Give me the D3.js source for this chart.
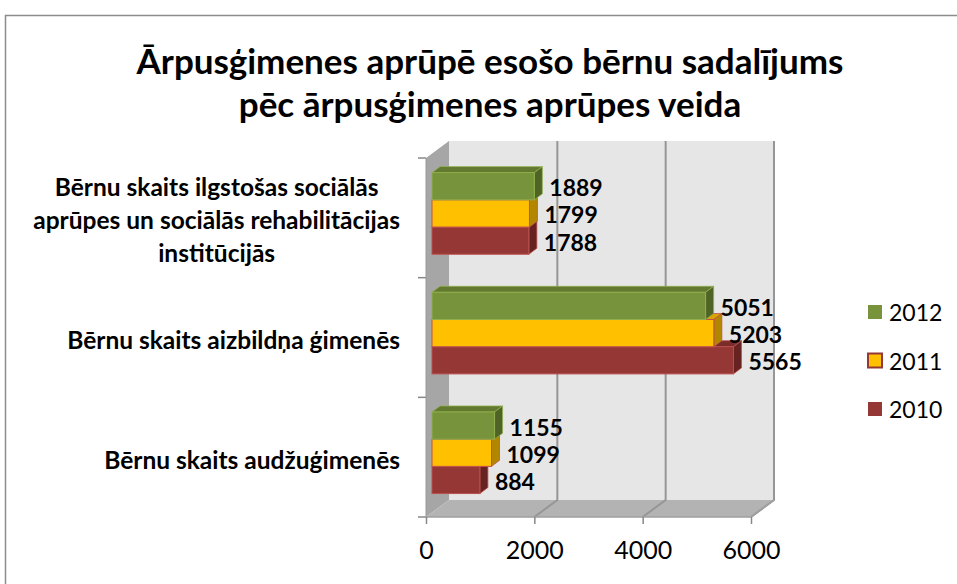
<!DOCTYPE html>
<html>
<head>
<meta charset="utf-8">
<script src="https://cdn.jsdelivr.net/npm/d3@7"></script>
<style>
  html, body { margin: 0; padding: 0; background: #fff; }
  svg { display: block; font-family: Lato, "Open Sans", sans-serif; }
</style>
</head>
<body>
<div id="chart"></div>
<script>
// Data (top to bottom as displayed)
const categories = [
    ["Bērnu skaits ilgstošas sociālās", "aprūpes un sociālās rehabilitācijas", "institūcijās"],
    ["Bērnu skaits aizbildņa ģimenēs"],
    ["Bērnu skaits audžuģimenēs"]
];
const years = ["2012", "2011", "2010"];
const values2012 = [1889, 5051, 1155];
const values2011 = [1799, 5203, 1099];
const values2010 = [1788, 5565, 884];
const xTicks = [0, 2000, 4000, 6000];
const titleLines = ["Ārpusģimenes aprūpē esošo bērnu sadalījums", "pēc ārpusģimenes aprūpes veida"];

const seriesValues = { "2012": values2012, "2011": values2011, "2010": values2010 };
const colors = {
    "2012": { front: "#77933c", top: "#62792f", side: "#4f6326", stroke: "#8fae4c" },
    "2011": { front: "#ffc000", top: "#d9a300", side: "#b38600", stroke: "#c0504d" },
    "2010": { front: "#953735", top: "#7a2c2a", side: "#662321", stroke: "#b9504d" }
};

const width = 957, height = 584;
const svg = d3.select("#chart").append("svg")
    .attr("width", width)
    .attr("height", height);

// Chart frame
svg.append("rect")
    .attr("x", 5.5).attr("y", 15.5)
    .attr("width", width + 10).attr("height", height + 10)
    .attr("fill", "#fff").attr("stroke", "#8c8c8c").attr("stroke-width", 1.5);

// Title
svg.append("g").selectAll("text")
    .data(titleLines)
    .join("text")
    .attr("x", 490)
    .attr("y", (d, i) => 74 + i * 43)
    .attr("text-anchor", "middle")
    .attr("font-size", 35)
    .attr("font-weight", "bold")
    .text(d => d);

// 3D geometry
const depth = { dx: 23, dy: -17 };          // full depth of the plot
const barFront = { dx: 6, dy: -4.4 };       // bar front face offset
const barDepth = { dx: 8, dy: -6 };         // bar thickness

const x = d3.scaleLinear().domain([0, 6000]).range([426, 751]);
const y = d3.scaleBand().domain(d3.range(categories.length)).range([158, 517]).padding(0);
const ys = d3.scaleBand().domain(years).range([0, y.bandwidth()]).paddingInner(0).paddingOuter(0.7);

const plot = svg.append("g");
const x0 = x(0), y0 = y.range()[0], y1 = y.range()[1];

// Back wall
plot.append("rect")
    .attr("x", x0 + depth.dx).attr("y", y0 + depth.dy)
    .attr("width", x(6000) - x0).attr("height", y1 - y0)
    .attr("fill", "#e6e6e6");

// Side wall
plot.append("polygon")
    .attr("points", [[x0, y0], [x0 + depth.dx, y0 + depth.dy], [x0 + depth.dx, y1 + depth.dy], [x0, y1]].join(" "))
    .attr("fill", "#a6a6a6");

// Floor
plot.append("polygon")
    .attr("points", [[x0, y1], [x(6000), y1], [x(6000) + depth.dx, y1 + depth.dy], [x0 + depth.dx, y1 + depth.dy]].join(" "))
    .attr("fill", "#b3b3b3");

// Gridlines on back wall and floor
plot.append("g").selectAll("path")
    .data(xTicks.slice(1))
    .join("path")
    .attr("d", d => `M${x(d)},${y1}L${x(d) + depth.dx},${y1 + depth.dy}L${x(d) + depth.dx},${y0 + depth.dy}`)
    .attr("fill", "none")
    .attr("stroke", "#969696")
    .attr("stroke-width", 2);

// Floor edge line
plot.append("path")
    .attr("d", `M${x0},${y1}L${x(6000)},${y1}L${x(6000) + depth.dx},${y1 + depth.dy}`)
    .attr("fill", "none").attr("stroke", "#a0a0a0").attr("stroke-width", 1.5);

// Axes
const xAxis = d3.axisBottom(x).tickValues(xTicks).tickSize(7).tickPadding(17).tickFormat(d3.format("d"));
const gx = plot.append("g").attr("transform", `translate(0,${y1})`).call(xAxis);
gx.select(".domain").remove();
gx.selectAll(".tick line").attr("stroke", "#888").attr("stroke-width", 1.5);
gx.selectAll(".tick text").attr("font-size", 25).attr("font-family", "Lato").attr("fill", "#000");

// Vertical axis ticks at band boundaries
const yTicks = d3.range(categories.length + 1).map(i => y0 + i * y.step());
plot.append("g").selectAll("line")
    .data(yTicks)
    .join("line")
    .attr("x1", x0 - 8).attr("x2", x0)
    .attr("y1", d => d).attr("y2", d => d)
    .attr("stroke", "#888").attr("stroke-width", 1.5);
plot.append("line")
    .attr("x1", x0).attr("x2", x0).attr("y1", y0).attr("y2", y1)
    .attr("stroke", "#999").attr("stroke-width", 1);

// Category labels
const catG = svg.append("g");
categories.forEach((lines, i) => {
    const cy = y(i) + y.bandwidth() / 2 + 2;
    const g = catG.append("g");
    const texts = g.selectAll("text")
        .data(lines)
        .join("text")
        .attr("y", (d, j) => cy + (j - (lines.length - 1) / 2) * 33)
        .attr("dominant-baseline", "central")
        .attr("text-anchor", "middle")
        .attr("font-size", 24.5)
        .attr("font-weight", "bold")
        .text(d => d);
    let maxW = 0;
    texts.each(function() { maxW = Math.max(maxW, this.getComputedTextLength()); });
    texts.attr("x", 400 - maxW / 2);
});

// Bars (drawn bottom series first so upper bars cover hidden top faces)
const barsG = svg.append("g");
const drawOrder = years.slice().reverse();
categories.forEach((c, i) => {
    drawOrder.forEach(yr => {
        const v = seriesValues[yr][i];
        const c = colors[yr];
        const bx0 = x(0) + barFront.dx;
        const bx1 = x(v) + barFront.dx;
        const by = y(i) + ys(yr) + barFront.dy;
        const bh = ys.bandwidth();
        const g = barsG.append("g");
        g.append("polygon")
            .attr("points", [[bx0, by], [bx1, by], [bx1 + barDepth.dx, by + barDepth.dy], [bx0 + barDepth.dx, by + barDepth.dy]].join(" "))
            .attr("fill", c.top).attr("stroke", c.stroke).attr("stroke-width", 0.8);
        g.append("polygon")
            .attr("points", [[bx1, by], [bx1 + barDepth.dx, by + barDepth.dy], [bx1 + barDepth.dx, by + bh + barDepth.dy], [bx1, by + bh]].join(" "))
            .attr("fill", c.side).attr("stroke", c.stroke).attr("stroke-width", 0.8);
        g.append("rect")
            .attr("x", bx0).attr("y", by)
            .attr("width", bx1 - bx0).attr("height", bh)
            .attr("fill", c.front).attr("stroke", c.stroke).attr("stroke-width", 1);
    });
});

// Data labels
categories.forEach((c, i) => {
    years.forEach(yr => {
        const v = seriesValues[yr][i];
        svg.append("text")
            .attr("x", x(v) + barFront.dx + barDepth.dx + 7)
            .attr("y", y(i) + ys(yr) + barFront.dy + ys.bandwidth() / 2 + 1)
            .attr("dominant-baseline", "central")
            .attr("font-size", 23)
            .attr("font-weight", "bold")
            .text(v);
    });
});

// Legend
const legend = svg.append("g").selectAll("g")
    .data(years)
    .join("g")
    .attr("transform", (d, i) => `translate(868,${312 + i * 48.5})`);
legend.append("rect")
    .attr("x", 0).attr("y", -7)
    .attr("width", 14).attr("height", 14)
    .attr("fill", d => colors[d].front)
    .attr("stroke", d => d === "2011" ? "#953735" : "none")
    .attr("stroke-width", 2);
legend.append("text")
    .attr("x", 21).attr("y", 0)
    .attr("dominant-baseline", "central")
    .attr("font-size", 23)
    .text(d => d);
</script>
</body>
</html>
